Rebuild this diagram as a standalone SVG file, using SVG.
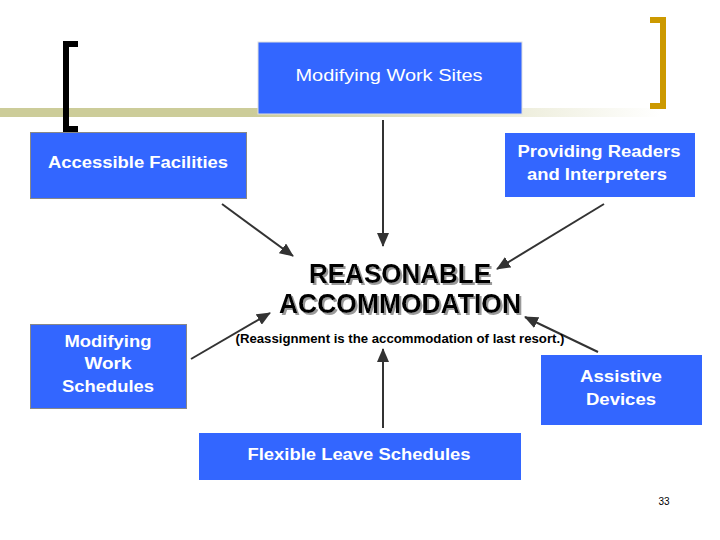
<svg xmlns="http://www.w3.org/2000/svg" width="720" height="540" viewBox="0 0 720 540">
<style>
.box{fill:#3366FF}
.lbl{font-family:"Liberation Sans",Arial,sans-serif;font-size:16px;font-weight:bold;fill:#FFFFFF;text-anchor:middle}
.big{font-family:"Liberation Sans",Arial,sans-serif;font-size:27px;font-weight:bold;text-anchor:middle;fill:#000;filter:url(#shadow)}
.sub{font-family:"Liberation Sans",Arial,sans-serif;font-size:12px;font-weight:bold;fill:#000;text-anchor:middle}
.conn{stroke:#333333;stroke-width:2;fill:none;marker-end:url(#ah)}
</style>
<defs>
<marker id="ah" viewBox="0 0 14 12" refX="13" refY="6" markerWidth="14" markerHeight="12" markerUnits="userSpaceOnUse" orient="auto">
<path d="M0,0 L14,6 L0,12 Z" fill="#333333"/>
</marker>
<linearGradient id="bar" x1="0" y1="0" x2="1" y2="0">
<stop offset="0" stop-color="#CCCC99"/>
<stop offset="0.38" stop-color="#CCCC99"/>
<stop offset="1" stop-color="#FFFFFF"/>
</linearGradient>
<filter id="shadow" x="-10%" y="-30%" width="120%" height="160%">
<feDropShadow dx="2" dy="2" stdDeviation="0" flood-color="#999999"/>
</filter>
</defs>
<rect width="720" height="540" fill="#FFFFFF"/>
<rect x="0" y="108" width="660" height="9" fill="url(#bar)"/>
<g id="bracket-left"><path d="M78,44 H66 V129 H78" stroke="#000" stroke-width="6" fill="none"/></g>
<g id="bracket-right"><path d="M650,20 H663 V106 H650" stroke="#CC9900" stroke-width="6" fill="none"/></g>
<g id="connectors">
<line class="conn" x1="222" y1="204" x2="293" y2="256"/>
<line class="conn" x1="383" y1="120" x2="383" y2="246"/>
<line class="conn" x1="604" y1="204" x2="497" y2="269"/>
<line class="conn" x1="191" y1="359" x2="270" y2="313"/>
<line class="conn" x1="598" y1="352" x2="525" y2="317"/>
<line class="conn" x1="383" y1="428" x2="383" y2="349"/>
</g>
<g id="n-sites"><rect class="box" x="258" y="42" width="264" height="72" stroke="#E0E0E0" stroke-width="1"/><text class="lbl" style="font-weight:normal" x="389" y="81" textLength="187" lengthAdjust="spacingAndGlyphs">Modifying Work Sites</text></g>
<g id="n-facilities"><rect class="box" x="30.5" y="132.5" width="216" height="66" stroke="#888" stroke-width="1"/><text class="lbl" x="138" y="168" textLength="180" lengthAdjust="spacingAndGlyphs">Accessible Facilities</text></g>
<g id="n-readers"><rect class="box" x="505" y="133" width="190" height="64"/><text class="lbl" x="599" y="157" textLength="163" lengthAdjust="spacingAndGlyphs">Providing Readers</text><text class="lbl" x="597" y="180" textLength="140" lengthAdjust="spacingAndGlyphs">and Interpreters</text></g>
<g id="n-center">
<text class="big" x="400" y="283" textLength="182" lengthAdjust="spacingAndGlyphs">REASONABLE</text>
<text class="big" x="400" y="313" textLength="242" lengthAdjust="spacingAndGlyphs">ACCOMMODATION</text>
<text class="sub" x="400" y="343" textLength="329" lengthAdjust="spacingAndGlyphs">(Reassignment is the accommodation of last resort.)</text>
</g>
<g id="n-schedules"><rect class="box" x="30.5" y="324.5" width="156" height="84" stroke="#888" stroke-width="1"/><text class="lbl" x="108" y="347" textLength="87" lengthAdjust="spacingAndGlyphs">Modifying</text><text class="lbl" x="108" y="369" textLength="47" lengthAdjust="spacingAndGlyphs">Work</text><text class="lbl" x="108" y="392" textLength="92" lengthAdjust="spacingAndGlyphs">Schedules</text></g>
<g id="n-devices"><rect class="box" x="541" y="355" width="161" height="70"/><text class="lbl" x="621" y="382" textLength="82" lengthAdjust="spacingAndGlyphs">Assistive</text><text class="lbl" x="621" y="405" textLength="70" lengthAdjust="spacingAndGlyphs">Devices</text></g>
<g id="n-leave"><rect class="box" x="199" y="433" width="322" height="47"/><text class="lbl" x="359" y="460" textLength="223" lengthAdjust="spacingAndGlyphs">Flexible Leave Schedules</text></g>
<text x="664" y="505" font-family="Liberation Sans,Arial,sans-serif" font-size="10" fill="#000" text-anchor="middle">33</text>
</svg>
